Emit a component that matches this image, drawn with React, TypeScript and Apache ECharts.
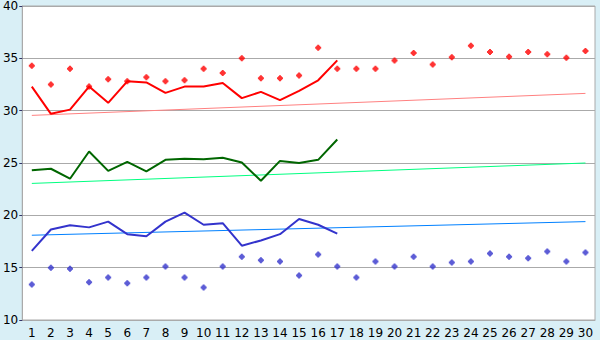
import React, { useEffect, useRef } from "react";
import * as echarts from "echarts";

const categories = ["1","2","3","4","5","6","7","8","9","10","11","12","13","14","15","16","17","18","19","20","21","22","23","24","25","26","27","28","29","30"];

const redPoints = [34.3, 32.5, 34.0, 32.3, 33.0, 32.8, 33.2, 32.8, 32.9, 34.0, 33.6, 35.0, 33.1, 33.1, 33.35, 36.0, 34.0, 34.0, 34.0, 34.8, 35.5, 34.4, 35.1, 36.2, 35.6, 35.15, 35.6, 35.4, 35.05, 35.7];
const redLine = [32.3, 29.7, 30.1, 32.3, 30.75, 32.8, 32.7, 31.7, 32.3, 32.3, 32.65, 31.2, 31.8, 31.0, 31.9, 32.9, 34.8];
const greenLine = [24.3, 24.45, 23.5, 26.1, 24.25, 25.1, 24.2, 25.3, 25.4, 25.35, 25.5, 25.05, 23.3, 25.2, 25.0, 25.3, 27.25];
const blueLine = [16.6, 18.65, 19.05, 18.85, 19.4, 18.2, 18.0, 19.4, 20.25, 19.1, 19.25, 17.1, 17.6, 18.2, 19.65, 19.1, 18.25];
const bluePoints = [13.4, 15.0, 14.9, 13.6, 14.05, 13.5, 14.05, 15.1, 14.05, 13.1, 15.1, 16.05, 15.7, 15.6, 14.25, 16.25, 15.1, 14.05, 15.6, 15.1, 16.05, 15.1, 15.5, 15.6, 16.35, 16.05, 15.9, 16.55, 15.6, 16.45];

// trend lines: value at first and last category
const redTrend = [29.55, 31.65];
const greenTrend = [23.05, 25.0];
const blueTrend = [18.1, 19.4];

const yTicks = { min: 10, max: 40, interval: 5 };

const markerSymbol = "path://M2,0 H4 V1 H5 V2 H6 V4 H5 V5 H4 V6 H2 V5 H1 V4 H0 V2 H1 V1 H2 Z";

export default function App() {
  const ref = useRef<HTMLDivElement>(null);
  useEffect(() => {
    if (!ref.current) return;
    const chart = echarts.init(ref.current, null, { renderer: "svg" });
    const last = categories.length - 1;
    const trend = (vals: number[], color: string) => ({
      type: "line",
      data: [[0, vals[0]], [last, vals[1]]],
      symbol: "none",
      lineStyle: { color, width: 1 },
      z: 1,
    });
    const mainLine = (vals: number[], color: string, width: number) => ({
      type: "line",
      data: vals,
      symbol: "none",
      lineStyle: { color, width },
      z: 3,
    });
    const points = (vals: number[], color: string) => ({
      type: "scatter",
      data: vals,
      symbol: markerSymbol,
      symbolSize: 6,
      itemStyle: { color },
      z: 4,
    });
    chart.setOption({
      animation: false,
      backgroundColor: "#d9eff6",
      grid: {
        left: 20,
        right: 5,
        top: 5,
        bottom: 20,
        show: true,
        backgroundColor: "#ffffff",
        borderColor: "#aaaaaa",
        borderWidth: 1,
      },
      xAxis: {
        type: "category",
        data: categories,
        boundaryGap: true,
        axisLine: { lineStyle: { color: "#aaaaaa" } },
        axisTick: { alignWithLabel: true, length: 5, lineStyle: { color: "#333366" } },
        axisLabel: { color: "#000", fontSize: 12, fontFamily: "DejaVu Sans", margin: 7, interval: 0 },
        splitLine: { show: false },
      },
      yAxis: {
        type: "value",
        min: yTicks.min,
        max: yTicks.max,
        interval: yTicks.interval,
        axisLine: { show: true, lineStyle: { color: "#aaaaaa" } },
        axisTick: { show: true, length: 3, lineStyle: { color: "#333366" } },
        axisLabel: { color: "#000", fontSize: 12, fontFamily: "DejaVu Sans", margin: 4 },
        splitLine: { show: true, lineStyle: { color: "#aaaaaa", width: 1 } },
      },
      series: [
        trend(redTrend, "#ff8080"),
        trend(greenTrend, "#00ff80"),
        trend(blueTrend, "#0080ff"),
        mainLine(redLine, "#ff0000", 2),
        mainLine(greenLine, "#006600", 2),
        mainLine(blueLine, "#3333cc", 2),
        points(redPoints, "#ff0000"),
        points(bluePoints, "#3333cc"),
      ],
    });
    return () => chart.dispose();
  }, []);
  return (
    <div
      ref={ref}
      style={{ position: "fixed", left: 0, top: 0, width: 600, height: 340 }}
    />
  );
}
